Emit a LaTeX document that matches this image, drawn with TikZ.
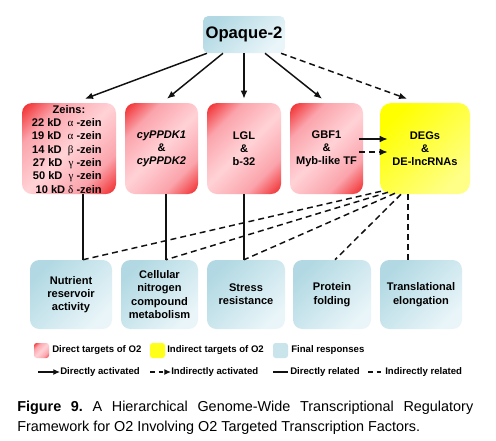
\documentclass[tikz,border=0pt]{standalone}
\usepackage{fontspec}
\setmainfont{Liberation Sans}
\newfontfamily\grk{Liberation Serif}
\usetikzlibrary{arrows.meta,calc}

\definecolor{rdA}{HTML}{EE1010}
\definecolor{pkA}{HTML}{FBA4AC}
\definecolor{pkB}{HTML}{FFD2D6}
\definecolor{blA}{HTML}{B2D9E3}
\definecolor{blB}{HTML}{E9F5F9}
\definecolor{ylA}{HTML}{FFFF00}
\definecolor{ylB}{HTML}{FFFF88}
\definecolor{ink}{HTML}{111111}

\pgfdeclareverticalshading{redsh}{100bp}{color(0bp)=(rdA); color(12bp)=(rdA); color(30bp)=(pkA); color(50bp)=(pkB); color(70bp)=(pkA); color(88bp)=(rdA); color(100bp)=(rdA)}

\begin{document}
\begin{tikzpicture}[x=0.75pt,y=-0.75pt,font=\bfseries,
  redbox/.style={rounded corners=7.5pt, shading=redsh, shading angle=45, inner sep=0pt,
     minimum height=68.25pt, align=center, font=\fontsize{8.3}{9.75}\selectfont\bfseries},
  ylbox/.style={rounded corners=8.5pt, shading=axis, top color=ylA, bottom color=ylB, shading angle=45,
     inner sep=0pt, minimum height=68.25pt, align=center, font=\fontsize{8.3}{9.75}\selectfont\bfseries},
  bluebox/.style={rounded corners=7pt, shading=axis, top color=blA, bottom color=blB, shading angle=45,
     inner sep=0pt, minimum height=51.75pt, align=center, font=\fontsize{8.3}{10}\selectfont\bfseries},
  arr/.style={draw=ink, line width=1.1pt, -{Latex[length=6pt,width=5pt]}},
  darr/.style={arr, dash pattern=on 4.5pt off 3pt},
  rel/.style={draw=ink, line width=1.1pt},
  drel/.style={rel, dash pattern=on 4.5pt off 3pt},
  legsw/.style={rounded corners=2pt, inner sep=0pt, minimum width=11.25pt, minimum height=11.25pt},
  legtxt/.style={anchor=west, inner sep=0pt, font=\fontsize{7.2}{8}\selectfont\bfseries}
]
\fill[white] (0,0) rectangle (496,440);
\useasboundingbox (0,0) rectangle (496,440);

% top node
\node[bluebox, rounded corners=4pt, minimum width=61.5pt, minimum height=27.75pt,
      font=\fontsize{12.5}{14}\selectfont\bfseries] (op) at (244,34.5) {Opaque-2};

% direct / indirect targets
\node[redbox, minimum width=70.5pt] (z) at (69,148.5) {};
\node[inner sep=0pt, font=\fontsize{8.3}{10}\selectfont\bfseries] (zt) at (69,110) {Zeins:};
\node[anchor=east, align=right, inner sep=0pt, font=\fontsize{8.3}{10}\selectfont\bfseries] (zl) at (102,156)
  {22 kD \ {\grk\mdseries α} -zein\\19 kD \ {\grk\mdseries α} -zein\\14 kD \ {\grk\mdseries β} -zein\\27 kD \ {\grk\mdseries γ} -zein\\50 kD \ {\grk\mdseries γ} -zein\\10 kD {\grk\mdseries δ} -zein};
\node[redbox, minimum width=54.75pt] (cy) at (161.5,148.5) {\textit{cyPPDK1}\\\&\\\textit{cyPPDK2}};
\node[redbox, minimum width=55.5pt] (lgl) at (244,148.5) {LGL\\\&\\b-32};
\node[redbox, minimum width=54.75pt] (gbf) at (326.5,148.5) {GBF1\\\&\\Myb-like TF};
\node[ylbox, minimum width=67.5pt] (deg) at (425,148.5) {DEGs\\\&\\DE-lncRNAs};

% final responses
\node[bluebox, minimum width=61.5pt] (b1) at (71,294.5) {Nutrient\\reservoir\\activity};
\node[bluebox, minimum width=57.75pt] (b2) at (159.5,294.5) {Cellular\\nitrogen\\compound\\metabolism};
\node[bluebox, minimum width=58.5pt] (b3) at (246,294.5) {Stress\\resistance};
\node[bluebox, minimum width=58.5pt] (b4) at (332,294.5) {Protein\\folding};
\node[bluebox, minimum width=61.5pt] (b5) at (421,294.5) {Translational\\elongation};

% O2 arrows
\draw[arr] ($(op.south)+(-37,0)$) -- ($(z.north)+(16,-4)$);
\draw[arr] ($(op.south)+(-21,0)$) -- ($(cy.north)+(5.5,-4)$);
\draw[arr] (op.south) -- ($(lgl.north)+(0,-4)$);
\draw[arr] ($(op.south)+(21,0)$) -- ($(gbf.north)+(-4.5,-4)$);
\draw[darr] ($(op.south)+(37,0)$) -- ($(deg.north)+(-18,-4)$);

% GBF1 -> DEGs
\draw[arr] ($(gbf.east)+(-4,-9.5)$) -- ($(deg.west)+(8,-9.5)$);
\draw[darr] ($(gbf.east)+(-4,3.5)$) -- ($(deg.west)+(8,3.5)$);

% direct relations
\coordinate (e1) at ($(b1.north)+(12,0)$);
\coordinate (e2) at ($(b2.north)+(6.5,0)$);
\coordinate (e3) at ($(b3.north)+(-2,0)$);
\draw[rel] ($(z.south)+(14,0)$) -- (e1);
\draw[rel] ($(cy.south)+(4.5,0)$) -- (e2);
\draw[rel] (lgl.south) -- (e3);

% indirect relations
\draw[drel] ($(deg.south)+(-44,-3)$) -- (e1);
\draw[drel] ($(deg.south)+(-37,-2)$) -- (e2);
\draw[drel] ($(deg.south)+(-30,-1)$) -- (e3);
\draw[drel] ($(deg.south)+(-24,0)$) -- ($(b4.north)+(3,0)$);
\draw[drel] ($(deg.south)+(-17,0)$) -- ($(b5.north)+(-13,0)$);

% legend row 1
\node[legsw, shading=redsh, shading angle=45] (lr) at (41.5,350.5) {};
\node[legtxt] (lrt) at (52,350.5) {Direct targets of O2};
\node[legsw, fill=ylA!90!white] (ly) at (157.5,350.5) {};
\node[legtxt] (lyt) at (167,350.5) {Indirect targets of O2};
\node[legsw, fill=blA!70!white] (lb) at (280.5,350.5) {};
\node[legtxt] (lbt) at (291,350.5) {Final responses};

% legend row 2
\coordinate (la1) at (38,372); \coordinate (la2) at (60,372);
\draw[arr, line width=0.9pt, -{Latex[length=5pt,width=4.5pt]}] (la1) -- (la2);
\node[legtxt] (lat) at (60,372) {Directly activated};
\coordinate (lc1) at (150,372); \coordinate (lc2) at (171,372);
\draw[arr, line width=0.9pt, dash pattern=on 3.5pt off 3pt, -{Latex[length=5pt,width=4.5pt]}] (lc1) -- (lc2);
\node[legtxt] (lct) at (171,372) {Indirectly activated};
\coordinate (ld1) at (273,372); \coordinate (ld2) at (288,372);
\draw[rel, line width=0.9pt] (ld1) -- (ld2);
\node[legtxt] (ldt) at (290,372) {Directly related};
\coordinate (le1) at (368,372); \coordinate (le2) at (383,372);
\draw[rel, line width=0.9pt, dash pattern=on 3.5pt off 3pt] (le1) -- (le2);
\node[legtxt] (let) at (385,372) {Indirectly related};

% caption
\node[anchor=north west, inner sep=0pt, text width=342pt, align=justify,
      font=\fontsize{10.8}{15}\selectfont\mdseries\frenchspacing] (cap) at (17,400.5)
  {\textbf{Figure 9.} A Hierarchical Genome-Wide Transcriptional Regulatory\linebreak Framework for O2 Involving O2 Targeted Transcription Factors.};
\end{tikzpicture}
\end{document}
